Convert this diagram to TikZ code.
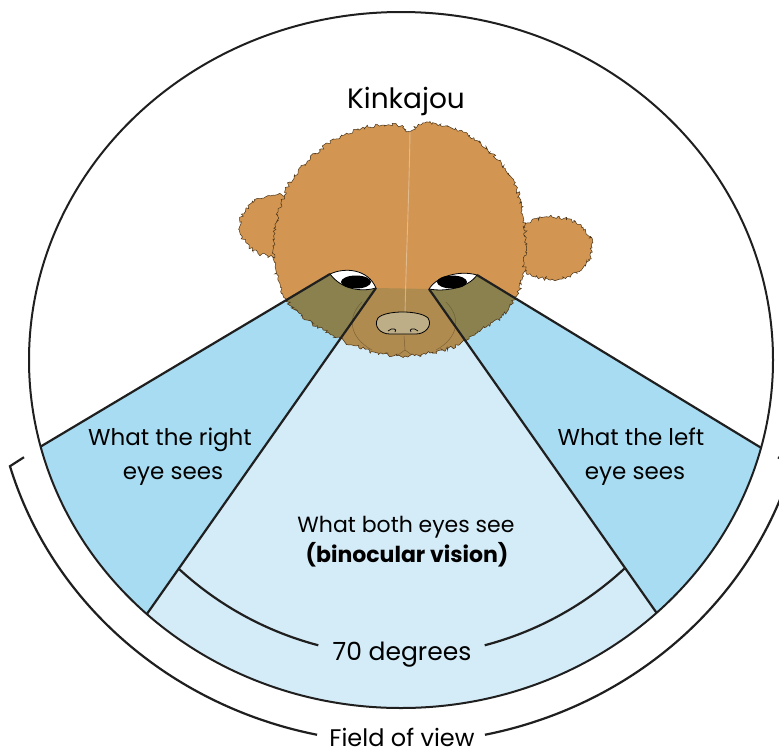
\documentclass[tikz,border=0pt]{standalone}
\usepackage{fontspec}
\setmainfont{Poppins}
\usetikzlibrary{calc,decorations.pathmorphing}

\definecolor{sideblue}{HTML}{A8DCF2}
\definecolor{binoblue}{HTML}{D4ECF8}
\definecolor{furcol}{HTML}{D29652}
\definecolor{furolive}{HTML}{8A814E}
\definecolor{furbrown}{HTML}{AF8B50}
\definecolor{furline}{HTML}{4A3418}
\definecolor{nosecol}{HTML}{BDAE88}

% outline of the head (ears drawn separately)
\newcommand\headshape{plot[smooth cycle, tension=.55] coordinates {
  (397,125) (410,131) (425,123) (463,132) (490,152) (512,178) (522,210)
  (526,245) (522,280) (514,300) (500,318) (478,331) (458,345) (430,353)
  (405,356) (378,353) (352,345) (330,334) (307,320) (288,302) (278,280)
  (273,250) (278,215) (290,182) (315,154) (340,137) (368,127)}}

\begin{document}
\begin{tikzpicture}[x=1pt,y=-1pt,
  edge/.style={line width=2.2pt, draw=black!88, line join=miter},
  fuzz/.style={decorate, decoration={random steps, segment length=1.8pt, amplitude=1.9pt}},
  lbl/.style={font=\fontsize{23}{28}\selectfont, anchor=base, inner sep=0pt},
  furedge/.style={draw=furline, line width=.5pt},
]
\useasboundingbox (0,0) rectangle (779,753);
\clip (0,0) rectangle (779,753);

% key points
\coordinate (O) at (401,360);
\coordinate (eL1) at (330,274);
\coordinate (eL2) at (376,288);
\coordinate (eR1) at (429,289);
\coordinate (eR2) at (477,275);
\coordinate (pA) at ($(O)+(165.6:372 and 348)$);
\coordinate (pB) at ($(O)+(133.1:372 and 348)$);
\coordinate (pC) at ($(O)+(46.6:372 and 348)$);
\coordinate (pD) at ($(O)+(14.6:372 and 348)$);
\coordinate (C7) at (401.5,328);

% viewing regions
\fill[sideblue] (eL1) -- (pA) arc[start angle=165.6, end angle=133.1, x radius=372, y radius=348] -- (eL2) -- cycle;
\fill[binoblue] (eL2) -- (pB) arc[start angle=133.1, end angle=46.6, x radius=372, y radius=348] -- (eR1) -- cycle;
\fill[sideblue] (eR2) -- (pD) arc[start angle=14.6, end angle=46.6, x radius=372, y radius=348] -- (eR1) -- cycle;

% ears
\pgfmathsetseed{5}
\filldraw[fill=furcol, furedge, fuzz] (276,226) ellipse[x radius=36, y radius=31];
\pgfmathsetseed{6}
\filldraw[fill=furcol, furedge, fuzz] (552,248) ellipse[x radius=40, y radius=31];

% head
\pgfmathsetseed{9}
\fill[furcol, fuzz] \headshape;
\begin{scope}
  \clip (eL1) -- (pA) -- (pB) -- (eL2) -- cycle;
  \pgfmathsetseed{9}
  \fill[furolive, fuzz] \headshape;
\end{scope}
\begin{scope}
  \clip (eR2) -- (pD) -- (pC) -- (eR1) -- cycle;
  \pgfmathsetseed{9}
  \fill[furolive, fuzz] \headshape;
\end{scope}
\begin{scope}
  \clip (eL2) -- (pB) -- (pC) -- (eR1) -- cycle;
  \pgfmathsetseed{9}
  \fill[furbrown, fuzz] \headshape;
\end{scope}
\pgfmathsetseed{9}
\draw[furedge, fuzz] \headshape;

% light parting of the fur
\draw[white, opacity=.35, line width=.9pt] (410,131) .. controls (409,200) and (406,260) .. (405,316);

% muzzle fur
\draw[furline, opacity=.45, line width=.5pt] (362,302) .. controls (346,318) and (350,338) .. (372,350);
\draw[furline, opacity=.45, line width=.5pt] (446,302) .. controls (462,318) and (458,338) .. (436,350);
\draw[furline, opacity=.5, line width=.5pt] (404,336) -- (405,350) -- (398,355);
\draw[furline, opacity=.5, line width=.5pt] (405,350) -- (412,355);

% eyes
\filldraw[fill=white, draw=black, line width=.8pt] (eL1) .. controls (345,267) and (368,269) .. (eL2) .. controls (362,292) and (342,290) .. cycle;
\fill[black] (356,282) ellipse[x radius=15, y radius=6.5];
\filldraw[fill=white, draw=black, line width=.8pt] (eR1) .. controls (437,276) and (460,270) .. (eR2) .. controls (468,288) and (445,292) .. cycle;
\fill[black] (452,282) ellipse[x radius=15, y radius=6.5];

% nose
\filldraw[fill=nosecol, draw=black, line width=.8pt] (378,318) .. controls (385,310) and (420,310) .. (428,318) .. controls (433,326) and (425,334) .. (416,334) .. controls (410,334) and (396,334) .. (390,334) .. controls (380,334) and (373,326) .. cycle;
\draw[line width=.7pt] (388,331) .. controls (392,327) and (398,329) .. (395,332);
\draw[line width=.7pt] (418,331) .. controls (414,327) and (408,329) .. (411,332);

% sight lines
\draw[edge] (eL1) -- (pA);
\draw[edge] (eL2) -- (pB);
\draw[edge] (eR1) -- (pC);
\draw[edge] (eR2) -- (pD);

% outer outline
\draw[edge, line width=2pt] (O) ellipse[x radius=372, y radius=348];

% binocular angle
\draw[edge] ($(C7)+(132.8:328)$) arc[start angle=132.8, end angle=104.7, radius=328];
\draw[edge] ($(C7)+(75.3:328)$) arc[start angle=75.3, end angle=47.2, radius=328];

% field of view bracket
\draw[edge] ($(O)+(163.9:407 and 383)+(14,-9)$) -- ($(O)+(163.9:407 and 383)$) arc[start angle=163.9, end angle=101.9, x radius=407, y radius=383];
\draw[edge] ($(O)+(78.1:407 and 383)$) arc[start angle=78.1, end angle=16.1, x radius=407, y radius=383] -- ++(-14,-9);

% labels
\node[font=\fontsize{28}{28}\selectfont, anchor=base, inner sep=0pt] (kk) at (406,108) {Kinkajou};
\node[lbl] (r1) at (170,445) {What the right};
\node[lbl] (r2) at (173,479) {eye sees};
\node[lbl] (l1) at (631,445) {What the left};
\node[lbl] (l2) at (635,479) {eye sees};
\node[lbl, font=\fontsize{22}{28}\selectfont] (b1) at (406,532) {What both eyes see};
\node[lbl, font=\fontsize{22}{28}\selectfont\bfseries] (b2) at (407,562) {(binocular vision)};
\node[lbl, font=\fontsize{25}{28}\selectfont] (deg) at (402,660) {70 degrees};
\node[lbl, font=\fontsize{24}{28}\selectfont] (fov) at (402,746) {Field of view};
\end{tikzpicture}
\end{document}
